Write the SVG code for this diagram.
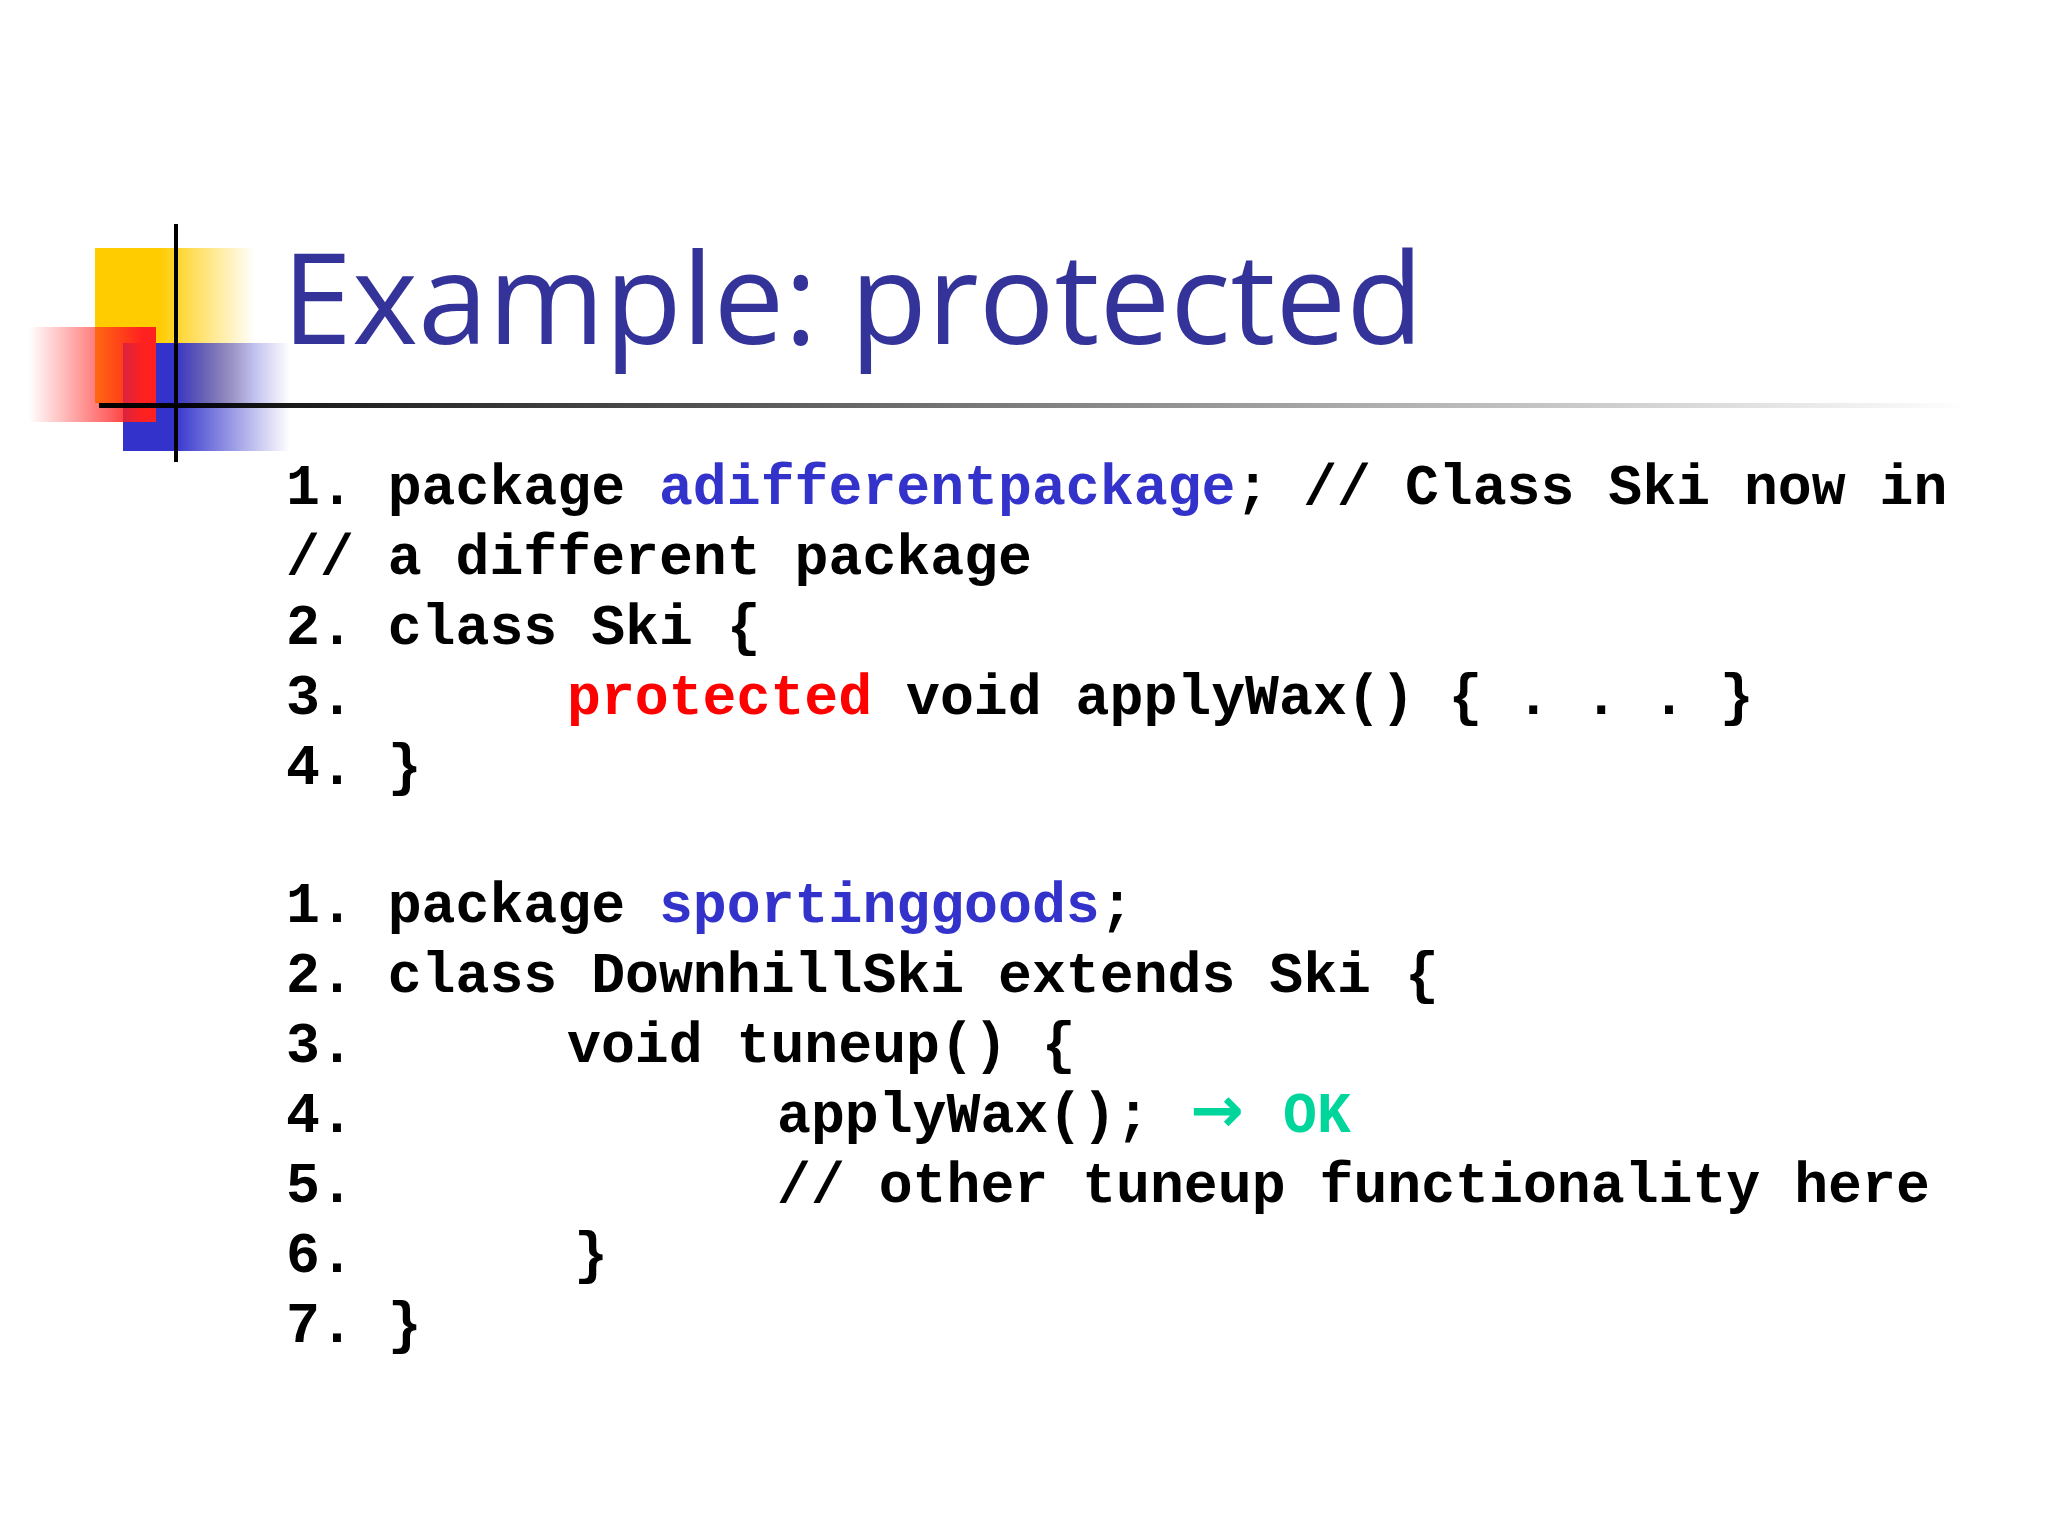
<svg xmlns="http://www.w3.org/2000/svg" width="2048" height="1536" viewBox="0 0 2048 1536">
<style>
.c{font-family:"Liberation Mono",monospace;font-weight:bold;font-size:56.5px;fill:#000}
.b{fill:#3333cc}.r{fill:#ff0000}.g{fill:#00d69b}
</style>
<defs>
<linearGradient id="ly" x1="0" x2="1"><stop offset="0.4" stop-color="#ffcc00"/><stop offset="1" stop-color="#ffcc00" stop-opacity="0"/></linearGradient>
<linearGradient id="lr" x1="1" x2="0"><stop offset="0.1" stop-color="#ff2020"/><stop offset="1" stop-color="#ff2020" stop-opacity="0"/></linearGradient>
<linearGradient id="lb" x1="0" x2="1"><stop offset="0.3" stop-color="#3333cc"/><stop offset="1" stop-color="#3333cc" stop-opacity="0"/></linearGradient>
<linearGradient id="ll" x1="0" x2="1"><stop offset="0" stop-color="#000"/><stop offset="1" stop-color="#000" stop-opacity="0"/></linearGradient>
</defs>
<rect width="2048" height="1536" fill="#fff"/>
<g id="logo">
<rect x="95" y="248" width="160" height="155" fill="url(#ly)"/>
<rect x="123" y="343" width="167" height="108" fill="url(#lb)"/>
<rect x="29" y="327" width="127" height="95" fill="url(#lr)"/>
<rect x="174" y="224" width="4" height="238" fill="#000"/>
</g>
<rect x="99" y="403" width="1870" height="5" fill="url(#ll)"/>
<text x="282" y="344" font-family="Open Sans, Noto Sans, sans-serif" font-size="126" fill="#333399">Example: protected</text>
<g id="code" class="c">
<text x="286" y="504">1. package <tspan class="b">adifferentpackage</tspan>; // Class Ski now in</text>
<text x="286" y="574">// a different package</text>
<text x="286" y="644">2. class Ski {</text>
<text x="286" y="714">3.<tspan x="567" class="r">protected</tspan> void applyWax() { . . . }</text>
<text x="286" y="784">4. }</text>
<text x="286" y="922">1. package <tspan class="b">sportinggoods</tspan>;</text>
<text x="286" y="992">2. class DownhillSki extends Ski {</text>
<text x="286" y="1062">3.<tspan x="567">void tuneup() {</tspan></text>
<text x="286" y="1132">4.<tspan x="777">applyWax();</tspan></text>
<text x="1190" y="1132" font-family="DejaVu Sans, sans-serif" font-weight="bold" font-size="64" class="g">→</text>
<text x="1283" y="1132" class="g">OK</text>
<text x="286" y="1202">5.<tspan x="777">// other tuneup functionality here</tspan></text>
<text x="286" y="1272">6.<tspan x="574">}</tspan></text>
<text x="286" y="1342">7. }</text>
</g>
</svg>
